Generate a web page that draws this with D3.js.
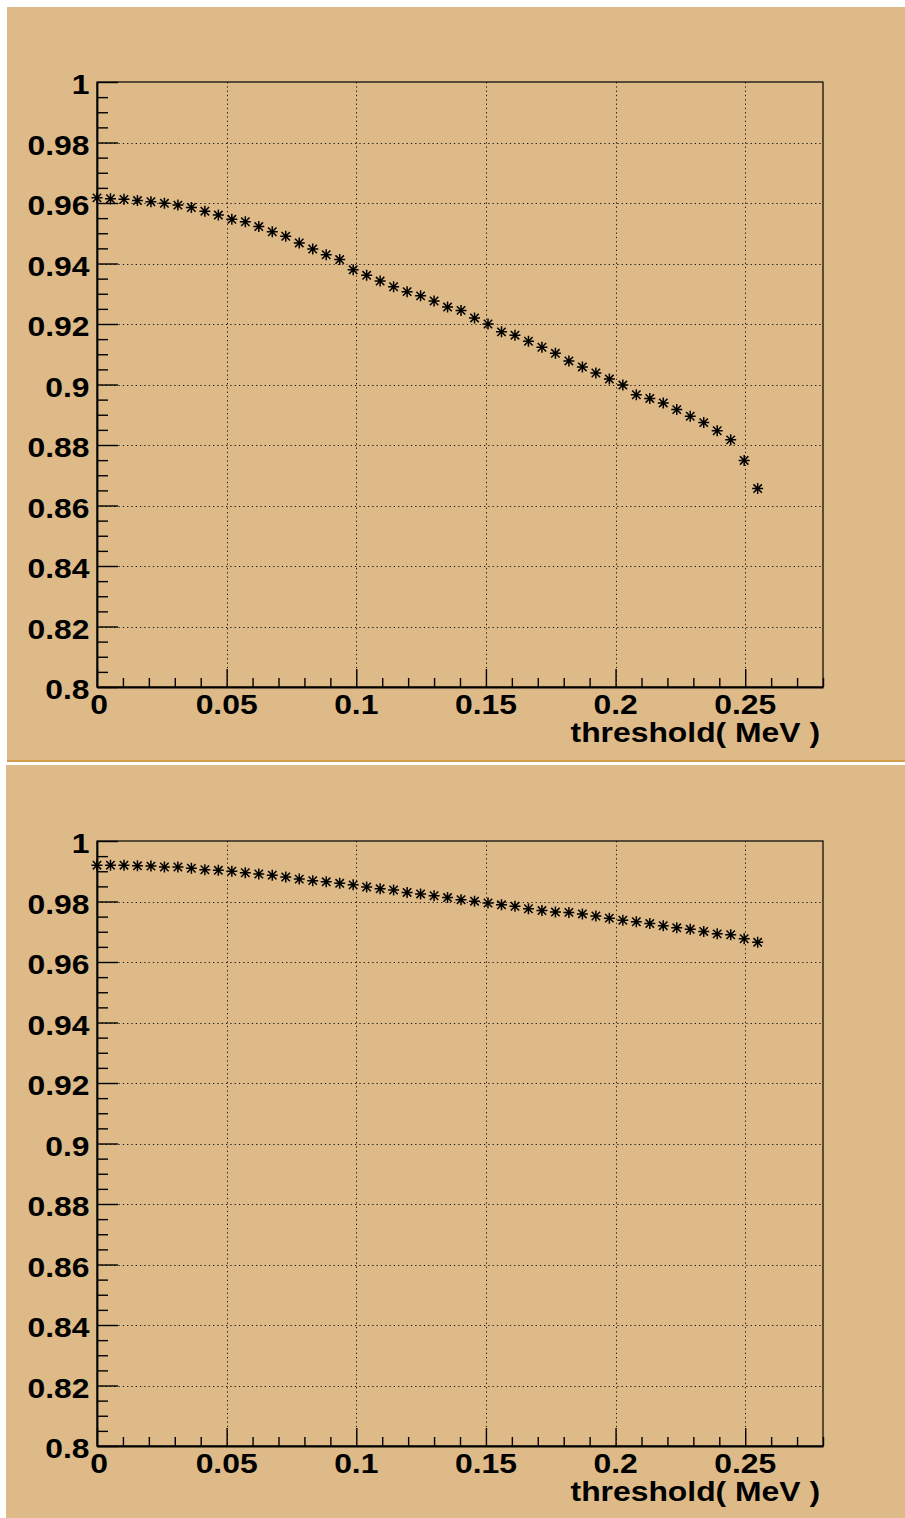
<!DOCTYPE html>
<html>
<head>
<meta charset="utf-8">
<script src="https://cdn.jsdelivr.net/npm/d3@7"></script>
<style>
  html, body { margin: 0; padding: 0; background: #ffffff; }
  svg { display: block; }
</style>
</head>
<body>
<svg id="canvas" width="905" height="1518"></svg>
<script>
// Threshold scan (MeV) shared by both pads
const thresholds = [
  0, 0.0052, 0.0104, 0.0156, 0.0208, 0.026, 0.0312, 0.0364, 0.0416, 0.0468,
  0.052, 0.0572, 0.0624, 0.0676, 0.0728, 0.078, 0.0832, 0.0884, 0.0936, 0.0988,
  0.104, 0.1092, 0.1144, 0.1196, 0.1248, 0.13, 0.1352, 0.1404, 0.1456, 0.1508,
  0.156, 0.1612, 0.1664, 0.1716, 0.1768, 0.182, 0.1872, 0.1924, 0.1976, 0.2028,
  0.208, 0.2132, 0.2184, 0.2236, 0.2288, 0.234, 0.2392, 0.2444, 0.2496, 0.2548
];

// Upper pad efficiency
const effTop = [
  0.9617, 0.9614, 0.9612, 0.9608, 0.9604, 0.9599, 0.9593, 0.9585, 0.9573, 0.9560,
  0.9546, 0.9538, 0.9522, 0.9505, 0.9490, 0.9468, 0.9448, 0.9429, 0.9413, 0.9379,
  0.9361, 0.9342, 0.9323, 0.9307, 0.9293, 0.9276, 0.9256, 0.9245, 0.9220, 0.9200,
  0.9174, 0.9163, 0.9143, 0.9123, 0.9103, 0.9078, 0.9058, 0.9038, 0.9018, 0.8998,
  0.8966, 0.8954, 0.8939, 0.8917, 0.8895, 0.8874, 0.8847, 0.8817, 0.8749, 0.8656
];

// Lower pad efficiency
const effBottom = [
  0.9920, 0.9920, 0.9920, 0.9918, 0.9917, 0.9914, 0.9914, 0.9910, 0.9905, 0.9903,
  0.9900, 0.9895, 0.9891, 0.9887, 0.9881, 0.9874, 0.9869, 0.9865, 0.9860, 0.9855,
  0.9848, 0.9842, 0.9838, 0.9830, 0.9825, 0.9819, 0.9813, 0.9806, 0.9801, 0.9795,
  0.9789, 0.9784, 0.9776, 0.9770, 0.9765, 0.9764, 0.9759, 0.9752, 0.9745, 0.9738,
  0.9733, 0.9727, 0.9720, 0.9713, 0.9708, 0.9701, 0.9693, 0.9690, 0.9677, 0.9665
];

const xMajorTicks = [0, 0.05, 0.1, 0.15, 0.2, 0.25];
const yMajorTicks = [0.8, 0.82, 0.84, 0.86, 0.88, 0.9, 0.92, 0.94, 0.96, 0.98, 1];
const xTitle = "threshold( MeV )";

const xDomain = [0, 0.28];
const yDomain = [0.8, 1];

const padFill = "#ddba87";
const padShadow = "#d49b4c";
const fontFamily = "'Liberation Sans', Arial, Helvetica, sans-serif";
const fontSize = 27;
const stretch = 1.18;

const svg = d3.select("#canvas");

// Two pads stacked vertically
const pads = [
  { x: 7, y: 7, w: 898, h: 755, values: effTop, frame: { l: 97, r: 823, t: 82, b: 687 } },
  { x: 6, y: 765, w: 899, h: 753, values: effBottom, frame: { l: 97, r: 823, t: 841, b: 1446 } }
];

function drawLabel(g, x, y, text, anchor) {
  g.append("g")
    .attr("transform", `translate(${x},${y}) scale(${stretch},1)`)
    .append("text")
    .attr("x", 0).attr("y", 0)
    .attr("text-anchor", anchor)
    .attr("font-family", fontFamily)
    .attr("font-weight", "bold")
    .attr("font-size", fontSize)
    .attr("fill", "#000")
    .text(text);
}

function fmt(v) { return String(+v.toFixed(3)); }

pads.forEach((p, idx) => {
  const g = svg.append("g");

  g.append("rect")
    .attr("x", p.x).attr("y", p.y).attr("width", p.w).attr("height", p.h)
    .attr("fill", padFill);

  if (idx === 0) {
    g.append("rect")
      .attr("x", p.x).attr("y", p.y + p.h - 2).attr("width", p.w).attr("height", 2)
      .attr("fill", padShadow);
  }

  const f = p.frame;
  const x = d3.scaleLinear().domain(xDomain).range([f.l, f.r]);
  const y = d3.scaleLinear().domain(yDomain).range([f.b, f.t]);

  // dotted grid
  const grid = g.append("g")
    .attr("stroke", "#1a1a1a").attr("stroke-width", 1)
    .attr("stroke-dasharray", "1.3,3").attr("fill", "none");
  xMajorTicks.filter(t => t > 0).forEach(t => {
    grid.append("line")
      .attr("x1", Math.round(x(t)) + 0.5).attr("x2", Math.round(x(t)) + 0.5)
      .attr("y1", f.t).attr("y2", f.b);
  });
  yMajorTicks.filter(t => t > 0.8 && t < 1).forEach(t => {
    grid.append("line")
      .attr("x1", f.l).attr("x2", f.r)
      .attr("y1", Math.round(y(t)) + 0.5).attr("y2", Math.round(y(t)) + 0.5);
  });

  // frame
  g.append("rect")
    .attr("x", f.l).attr("y", f.t).attr("width", f.r - f.l).attr("height", f.b - f.t)
    .attr("fill", "none").attr("stroke", "#000").attr("stroke-width", 1.2);

  // y axis, ticks pointing into the frame
  const yMinor = d3.range(0, 41).map(i => 0.8 + i * 0.005);
  const yAxis = d3.axisRight(y)
    .tickValues(yMinor)
    .tickSize(0)
    .tickFormat("");
  const yAx = g.append("g").attr("transform", `translate(${f.l},0)`).call(yAxis);
  yAx.select(".domain").attr("stroke", "#000").attr("stroke-width", 1.8);
  yAx.selectAll(".tick line")
    .attr("x2", d => (Math.abs(Math.round(d * 1000) % 20) === 0 ? 21 : 11))
    .attr("stroke", "#000").attr("stroke-width", 1.4);

  yMajorTicks.forEach(t => drawLabel(g, 89.5, y(t) + 12, fmt(t), "end"));

  // x axis, ticks pointing up
  const xMinor = d3.range(0, 29).map(i => i * 0.01);
  const xAxis = d3.axisBottom(x)
    .tickValues(xMinor)
    .tickSize(0)
    .tickFormat("");
  const xAx = g.append("g").attr("transform", `translate(0,${f.b})`).call(xAxis);
  xAx.select(".domain").attr("stroke", "#000").attr("stroke-width", 1.8);
  xAx.selectAll(".tick line")
    .attr("y2", d => (Math.round(d * 100) % 5 === 0 ? -18 : -9))
    .attr("stroke", "#000").attr("stroke-width", 1.4);

  // the "0" label is nudged right so it clears the "0.8" label beside it
  xMajorTicks.forEach(t => drawLabel(g, t === 0 ? x(t) + 2 : x(t), f.b + 27, fmt(t), "middle"));
  drawLabel(g, 820, f.b + 55, xTitle, "end");

  // asterisk markers
  const pts = thresholds.map((t, i) => [t, p.values[i]]);
  const s = 5.5, d = 4.2;
  const mk = g.append("g").attr("stroke", "#000").attr("stroke-width", 1.5).attr("fill", "none");
  mk.selectAll("path")
    .data(pts)
    .join("path")
    .attr("d", v => {
      const cx = x(v[0]), cy = y(v[1]);
      return `M${cx - s},${cy}L${cx + s},${cy}` +
             `M${cx},${cy - s}L${cx},${cy + s}` +
             `M${cx - d},${cy - d}L${cx + d},${cy + d}` +
             `M${cx - d},${cy + d}L${cx + d},${cy - d}`;
    });
});
</script>
</body>
</html>
